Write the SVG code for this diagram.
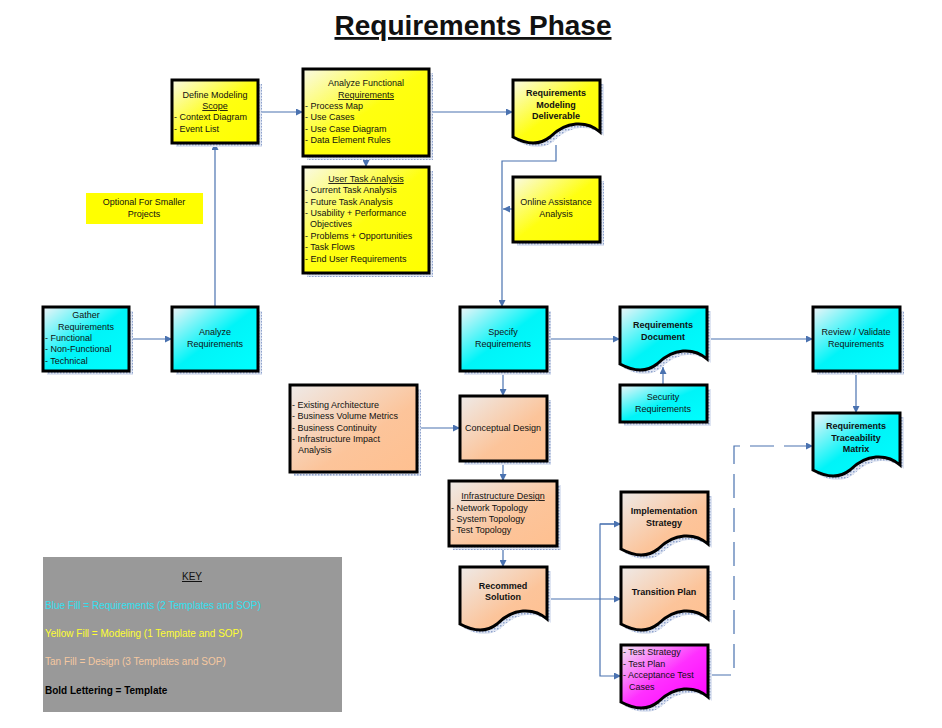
<svg xmlns="http://www.w3.org/2000/svg" width="942" height="728" viewBox="0 0 942 728">
<style>
text{font-family:"Liberation Sans",Arial,sans-serif;font-size:9px;fill:#111}
.c{text-anchor:middle}
.b{font-weight:bold}
.u{text-decoration:underline}
.box{stroke:#000;stroke-width:3}
.sh{fill:url(#hatch)}
.cn{fill:none;stroke:#4a72b0;stroke-width:1.2}
.k{font-size:10px}
</style>
<defs>
<pattern id="hatch" width="3" height="3" patternUnits="userSpaceOnUse"><rect width="3" height="3" fill="#dfe5f2"/><rect width="1.5" height="1.5" fill="#8ea2cc"/></pattern>
<linearGradient id="gc" x1="0" y1="0" x2="1" y2="1"><stop offset="0" stop-color="#f0f4f8"/><stop offset="0.5" stop-color="#00f4f8"/><stop offset="1" stop-color="#00ffff"/></linearGradient>
<linearGradient id="gy" x1="0" y1="0" x2="1" y2="1"><stop offset="0" stop-color="#fafae6"/><stop offset="0.5" stop-color="#ffff10"/><stop offset="1" stop-color="#ffff00"/></linearGradient>
<linearGradient id="gt" x1="0" y1="0" x2="1" y2="1"><stop offset="0" stop-color="#eeeae8"/><stop offset="0.6" stop-color="#fcc49a"/><stop offset="1" stop-color="#ffc090"/></linearGradient>
<linearGradient id="gm" x1="0" y1="0" x2="1" y2="1"><stop offset="0" stop-color="#f2e8f2"/><stop offset="0.5" stop-color="#ff30ff"/><stop offset="1" stop-color="#ff00ff"/></linearGradient>
<path id="doc" d="M0,0 H87 V52 Q77,43 63,44 Q49,45 37,57 Q22,69 0,57 Z"/>
<marker id="ar" viewBox="0 0 10 10" refX="10" refY="5" markerWidth="7" markerHeight="7" orient="auto" markerUnits="userSpaceOnUse"><path d="M0,0 L10,5 L0,10 Z" fill="#4a72b0"/></marker>
</defs>
<rect width="942" height="728" fill="#fff"/>
<text x="473" y="35" class="c b u" style="font-size:28px">Requirements Phase</text>

<g id="connectors">
<path class="cn" d="M129,339 H172" marker-end="url(#ar)"/>
<path class="cn" d="M215,307 V143" marker-end="url(#ar)"/>
<path class="cn" d="M258,112 H303" marker-end="url(#ar)"/>
<path class="cn" d="M366,156 V167" marker-end="url(#ar)"/>
<path class="cn" d="M429,112 H513" marker-end="url(#ar)"/>
<path class="cn" d="M556,145 V161 H502 V307" marker-end="url(#ar)"/>
<path class="cn" d="M513,209 H503" marker-end="url(#ar)"/>
<path class="cn" d="M547,339 H620" marker-end="url(#ar)"/>
<path class="cn" d="M707,339 H813" marker-end="url(#ar)"/>
<path class="cn" d="M663,385 V367" marker-end="url(#ar)"/>
<path class="cn" d="M856,371 V413" marker-end="url(#ar)"/>
<path class="cn" d="M503,371 V396" marker-end="url(#ar)"/>
<path class="cn" d="M417,428 H460" marker-end="url(#ar)"/>
<path class="cn" d="M503,461 V481" marker-end="url(#ar)"/>
<path class="cn" d="M503,546 V567" marker-end="url(#ar)"/>
<path class="cn" d="M547,599 H621" marker-end="url(#ar)"/>
<path class="cn" d="M620,524 H600 V676 H621" marker-end="url(#ar)"/>
<path class="cn" d="M600,524 H621" marker-end="url(#ar)"/>
<path class="cn" d="M707,675 H734 V446 H813" stroke-dasharray="24,10" marker-end="url(#ar)"/>
</g>

<g id="define-scope"><rect class="sh" x="176" y="84" width="86" height="63"/><rect class="box" x="172" y="80" width="86" height="63" fill="url(#gy)"/>
<text x="215" y="98" class="c">Define Modeling</text><text x="215" y="109" class="c u">Scope</text><text x="174" y="120">- Context Diagram</text><text x="174" y="132">- Event List</text></g>

<g id="analyze-functional"><rect class="sh" x="307" y="73" width="126" height="87"/><rect class="box" x="303" y="69" width="126" height="87" fill="url(#gy)"/>
<text x="366" y="86" class="c">Analyze Functional</text><text x="366" y="98" class="c u">Requirements</text>
<text x="305" y="109">- Process Map</text><text x="305" y="120">- Use Cases</text><text x="305" y="132">- Use Case Diagram</text><text x="305" y="143">- Data Element Rules</text></g>

<g id="user-task"><rect class="sh" x="307" y="171" width="126" height="106"/><rect class="box" x="303" y="167" width="126" height="106" fill="url(#gy)"/>
<text x="366" y="182" class="c u">User Task Analysis</text>
<text x="305" y="193">- Current Task Analysis</text><text x="305" y="205">- Future Task Analysis</text><text x="305" y="216">- Usability + Performance</text><text x="310" y="227">Objectives</text><text x="305" y="239">- Problems + Opportunities</text><text x="305" y="250">- Task Flows</text><text x="305" y="262">- End User Requirements</text></g>

<g id="optional"><rect x="86" y="193" width="117" height="31" fill="#ffff00"/>
<text x="144" y="205" class="c">Optional For Smaller</text><text x="144" y="217" class="c">Projects</text></g>

<g id="gather"><rect class="sh" x="47" y="311" width="86" height="64"/><rect class="box" x="43" y="307" width="86" height="64" fill="url(#gc)"/>
<text x="86" y="318" class="c">Gather</text><text x="86" y="330" class="c">Requirements</text><text x="45" y="341">- Functional</text><text x="45" y="352">- Non-Functional</text><text x="45" y="364">- Technical</text></g>

<g id="analyze-req"><rect class="sh" x="176" y="311" width="86" height="64"/><rect class="box" x="172" y="307" width="86" height="64" fill="url(#gc)"/>
<text x="215" y="335" class="c">Analyze</text><text x="215" y="347" class="c">Requirements</text></g>

<g id="rmd"><use href="#doc" class="sh" x="517" y="84"/><use href="#doc" class="box" x="513" y="80" fill="url(#gy)"/>
<text x="556" y="96" class="c b">Requirements</text><text x="556" y="108" class="c b">Modeling</text><text x="556" y="119" class="c b">Deliverable</text></g>

<g id="online"><rect class="sh" x="517" y="181" width="87" height="65"/><rect class="box" x="513" y="177" width="87" height="65" fill="url(#gy)"/>
<text x="556" y="205" class="c">Online Assistance</text><text x="556" y="217" class="c">Analysis</text></g>

<g id="specify"><rect class="sh" x="464" y="311" width="87" height="64"/><rect class="box" x="460" y="307" width="87" height="64" fill="url(#gc)"/>
<text x="503" y="335" class="c">Specify</text><text x="503" y="347" class="c">Requirements</text></g>

<g id="req-doc"><use href="#doc" class="sh" x="624" y="311"/><use href="#doc" class="box" x="620" y="307" fill="url(#gc)"/>
<text x="663" y="328" class="c b">Requirements</text><text x="663" y="340" class="c b">Document</text></g>

<g id="security"><rect class="sh" x="624" y="389" width="87" height="37"/><rect class="box" x="620" y="385" width="87" height="37" fill="url(#gc)"/>
<text x="663" y="400" class="c">Security</text><text x="663" y="412" class="c">Requirements</text></g>

<g id="review"><rect class="sh" x="817" y="311" width="87" height="64"/><rect class="box" x="813" y="307" width="87" height="64" fill="url(#gc)"/>
<text x="856" y="335" class="c">Review / Validate</text><text x="856" y="347" class="c">Requirements</text></g>

<g id="traceability"><use href="#doc" class="sh" x="817" y="417"/><use href="#doc" class="box" x="813" y="413" fill="url(#gc)"/>
<text x="856" y="429" class="c b">Requirements</text><text x="856" y="441" class="c b">Traceability</text><text x="856" y="452" class="c b">Matrix</text></g>

<g id="existing"><rect class="sh" x="294" y="389" width="127" height="87"/><rect class="box" x="290" y="385" width="127" height="87" fill="url(#gt)"/>
<text x="292" y="408">- Existing Architecture</text><text x="292" y="419">- Business Volume Metrics</text><text x="292" y="431">- Business Continuity</text><text x="292" y="442">- Infrastructure Impact</text><text x="298" y="453">Analysis</text></g>

<g id="conceptual"><rect class="sh" x="464" y="400" width="87" height="65"/><rect class="box" x="460" y="396" width="87" height="65" fill="url(#gt)"/>
<text x="503" y="431" class="c">Conceptual Design</text></g>

<g id="infra"><rect class="sh" x="453" y="485" width="108" height="65"/><rect class="box" x="449" y="481" width="108" height="65" fill="url(#gt)"/>
<text x="503" y="499" class="c u">Infrastructure Design</text><text x="451" y="511">- Network Topology</text><text x="451" y="522">- System Topology</text><text x="451" y="533">- Test Topology</text></g>

<g id="recommed"><use href="#doc" class="sh" x="464" y="571"/><use href="#doc" class="box" x="460" y="567" fill="url(#gt)"/>
<text x="503" y="589" class="c b">Recommed</text><text x="503" y="600" class="c b">Solution</text></g>

<g id="implementation"><use href="#doc" class="sh" x="625" y="496"/><use href="#doc" class="box" x="621" y="492" fill="url(#gt)"/>
<text x="664" y="514" class="c b">Implementation</text><text x="664" y="526" class="c b">Strategy</text></g>

<g id="transition"><use href="#doc" class="sh" x="625" y="571"/><use href="#doc" class="box" x="621" y="567" fill="url(#gt)"/>
<text x="664" y="595" class="c b">Transition Plan</text></g>

<g id="test"><use href="#doc" class="sh" x="625" y="649"/><use href="#doc" class="box" x="621" y="645" fill="url(#gm)"/>
<text x="623" y="655">- Test Strategy</text><text x="623" y="667">- Test Plan</text><text x="623" y="678">- Acceptance Test</text><text x="629" y="690">Cases</text></g>

<g id="key"><rect x="43" y="557" width="299" height="155" fill="#999999"/>
<text x="192" y="580" class="c u k">KEY</text>
<text x="45" y="609" class="k" style="fill:#33e0f0">Blue Fill = Requirements (2 Templates and SOP)</text>
<text x="45" y="637" class="k" style="fill:#ffff33">Yellow Fill = Modeling (1 Template and SOP)</text>
<text x="45" y="665" class="k" style="fill:#f5c8a0">Tan Fill = Design (3 Templates and SOP)</text>
<text x="45" y="694" class="k b" style="fill:#000">Bold Lettering = Template</text></g>
</svg>
